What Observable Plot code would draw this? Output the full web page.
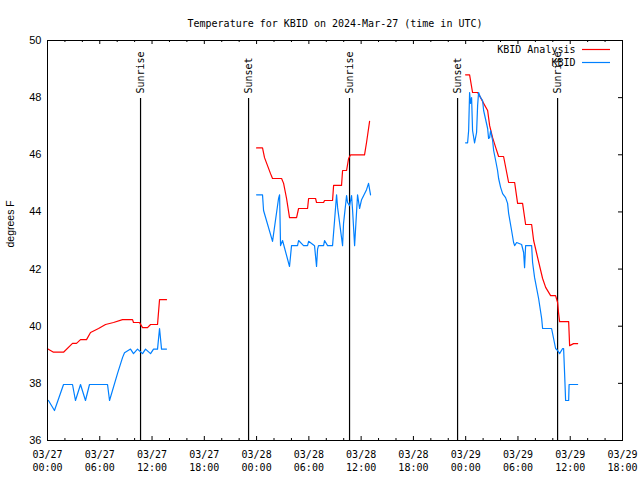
<!DOCTYPE html>
<html>
<head>
<meta charset="utf-8">
<script src="https://cdn.jsdelivr.net/npm/d3@7"></script>
<script src="https://cdn.jsdelivr.net/npm/@observablehq/plot@0.6"></script>
<style>
  html, body { margin: 0; padding: 0; background: #fff; }
  #chart svg { display: block; }
</style>
</head>
<body>
<div id="chart"></div>
<script>
// ---------- data (hours since 2024-03-27 00:00 UTC, degrees F) ----------
const analysisDay1Hours = [0.0,0.69,1.84,2.87,3.33,3.79,4.48,4.94,5.86,6.66,7.58,8.61,9.76,9.87,10.56,10.91,11.48,11.83,12.63,12.86,13.66];
const analysisDay1Temps = [39.21,39.09,39.09,39.40,39.40,39.53,39.53,39.78,39.92,40.06,40.13,40.23,40.23,40.13,40.13,39.95,39.95,40.06,40.06,40.93,40.93];
const analysisDay2Hours = [24.00,24.68,24.91,25.60,25.83,26.87,27.10,27.44,27.78,28.59,28.82,29.85,29.97,30.77,30.88,31.69,31.80,32.72,32.84,33.75,33.87,34.33,34.56,34.79,36.39,36.62,36.97];
const analysisDay2Temps = [46.24,46.24,45.90,45.34,45.17,45.17,45.00,44.47,43.80,43.80,44.12,44.12,44.47,44.47,44.33,44.33,44.40,44.40,44.93,44.93,45.45,45.45,45.87,46.00,46.00,46.43,47.17];
const analysisDay3Hours = [47.99,48.45,48.79,49.37,49.71,50.06,50.52,50.75,51.09,51.44,51.78,52.35,52.93,53.62,53.96,54.53,54.88,55.57,55.80,56.26,56.83,57.18,57.75,58.32,58.55,58.67,58.78,59.82,59.93,60.39,60.85];
const analysisDay3Temps = [48.80,48.80,48.18,48.18,48.00,47.80,47.55,47.02,46.60,46.26,45.94,45.94,45.03,45.03,44.30,44.30,43.56,43.56,43.00,42.40,41.67,41.36,41.07,41.07,40.83,40.44,40.16,40.16,39.32,39.39,39.39];

const obsDay1Hours = [0.11,0.80,1.84,2.87,3.21,3.79,4.36,4.82,6.89,7.12,8.04,8.61,8.84,9.53,9.87,10.33,10.91,11.25,11.83,12.17,12.63,12.86,13.09,13.66];
const obsDay1Temps = [37.40,37.05,37.96,37.96,37.40,37.96,37.40,37.96,37.96,37.40,38.35,38.90,39.07,39.20,39.04,39.20,39.04,39.20,39.04,39.20,39.20,39.92,39.20,39.20];
const obsDay2Hours = [24.00,24.68,24.80,25.83,26.52,26.64,26.75,26.98,27.78,28.01,28.70,28.82,29.39,29.85,29.97,30.65,30.88,31.00,31.11,31.69,31.80,32.15,32.72,32.95,33.18,33.30,33.87,33.98,34.33,34.44,34.67,34.90,35.02,35.25,35.59,35.82,36.05,36.62,36.85,37.08];
const obsDay2Temps = [44.60,44.60,44.05,42.97,44.47,44.60,42.82,43.00,42.09,42.82,42.82,43.00,42.82,42.82,42.97,42.82,42.09,42.70,42.82,42.82,43.00,42.82,42.82,43.70,44.60,44.15,42.82,43.60,44.57,44.33,44.22,44.57,44.05,42.82,44.60,44.12,44.43,44.78,45.00,44.60];
const obsDay3Hours = [47.99,48.22,48.34,48.45,48.56,48.68,48.79,49.02,49.25,49.37,49.48,49.71,49.94,50.06,50.52,50.63,50.75,50.86,51.09,51.21,51.44,51.66,51.78,52.01,52.24,52.58,52.81,52.93,53.27,53.50,53.62,53.85,54.42,54.65,54.76,54.88,55.57,55.68,55.91,56.37,56.72,56.83,57.86,58.09,58.32,58.55,58.78,59.13,59.24,59.36,59.47,59.82,59.87,60.85];
const obsDay3Temps = [46.42,46.42,46.85,48.18,47.80,48.00,46.85,46.42,46.78,47.72,48.18,48.00,47.90,47.55,46.92,46.57,46.60,46.85,46.50,46.15,45.80,45.45,45.17,44.86,44.64,44.50,44.30,43.95,43.35,42.93,42.82,42.93,42.86,42.58,42.05,42.82,42.82,42.23,41.70,40.97,40.27,39.92,39.92,39.57,39.22,39.15,39.04,39.22,39.22,38.30,37.40,37.40,37.96,37.96];

const sunHours  = [10.68, 23.08, 34.67, 47.07, 58.55];
const sunLabels = ["Sunrise", "Sunset", "Sunrise", "Sunset", "Sunrise"];

const yTicks = [36, 38, 40, 42, 44, 46, 48, 50];
const titleText = "Temperature for KBID on 2024-Mar-27 (time in UTC)";
const seriesNames = ["KBID Analysis", "KBID"];
const seriesColors = ["#ff0000", "#0080ff"];

// ---------- build tables ----------
const T0 = Date.UTC(2024, 2, 27, 0, 0);
const toDate = h => new Date(T0 + h * 3600e3);

function segs(hoursList, tempsList) {
  const rows = [];
  hoursList.forEach((hs, s) => hs.forEach((h, i) => rows.push({t: toDate(h), v: tempsList[s][i], seg: s})));
  return rows;
}
const analysis = segs([analysisDay1Hours, analysisDay2Hours, analysisDay3Hours], [analysisDay1Temps, analysisDay2Temps, analysisDay3Temps]);
const obs = segs([obsDay1Hours, obsDay2Hours, obsDay3Hours], [obsDay1Temps, obsDay2Temps, obsDay3Temps]);
const sun = sunHours.map((h, i) => ({t: toDate(h), label: sunLabels[i]}));

const xStart = toDate(0), xEnd = toDate(66);
const majorTicks = d3.range(0, 67, 6).map(toDate);
const minorTicks = d3.range(0, 67, 2).filter(h => h % 6 !== 0).map(toDate);
const fmt = d => d3.utcFormat("%m/%d")(d) + "\n" + d3.utcFormat("%H:%M")(d);

const W = 640, H = 480, ML = 47, MR = 18, MT = 40, MB = 40;
const FW = W - ML - MR, FH = H - MT - MB;
const mono = "DejaVu Sans Mono";

const legendSwatches = (index, scales, values, dims) => {
  const g = d3.create("svg:g");
  const right = dims.width - dims.marginRight;
  seriesColors.forEach((c, i) => {
    g.append("line")
      .attr("x1", right - 40).attr("x2", right - 12)
      .attr("y1", dims.marginTop + 9.5 + i * 13).attr("y2", dims.marginTop + 9.5 + i * 13)
      .attr("stroke", c).attr("stroke-width", 1.2);
  });
  return g.node();
};

const chart = Plot.plot({
  width: W, height: H,
  marginLeft: ML, marginRight: MR, marginTop: MT, marginBottom: MB,
  style: {fontFamily: mono, fontSize: "10px", background: "#fff", color: "#000"},
  x: {type: "utc", domain: [xStart, xEnd], axis: null},
  y: {domain: [36, 50], axis: null},
  marks: [
    // sunrise / sunset
    Plot.ruleX(sun, {x: "t", y1: 36, y2: 47.97, stroke: "#000", strokeWidth: 1.2}),
    Plot.text(sun, {x: "t", text: "label", frameAnchor: "top", dy: 53, rotate: -90, textAnchor: "start", lineAnchor: "middle", fontFamily: mono, fontSize: 10, fill: "#000"}),
    // data
    Plot.line(analysis, {x: "t", y: "v", z: "seg", stroke: seriesColors[0], strokeWidth: 1.2, curve: "linear"}),
    Plot.line(obs, {x: "t", y: "v", z: "seg", stroke: seriesColors[1], strokeWidth: 1.2, curve: "linear"}),
    // frame & ticks
    Plot.frame({stroke: "#000", strokeWidth: 1}),
    Plot.ruleX(majorTicks, {x: d => d, insetTop: FH - 4, stroke: "#000"}),
    Plot.ruleX(minorTicks, {x: d => d, insetTop: FH - 2, stroke: "#000"}),
    Plot.ruleX(majorTicks, {x: d => d, insetBottom: FH - 4, stroke: "#000"}),
    Plot.ruleX(minorTicks, {x: d => d, insetBottom: FH - 2, stroke: "#000"}),
    Plot.ruleY(yTicks, {y: d => d, insetLeft: FW - 4, stroke: "#000"}),
    // tick labels
    Plot.text(majorTicks, {x: d => d, text: fmt, frameAnchor: "bottom", dy: 20, lineAnchor: "middle", lineHeight: 1.3, fontFamily: mono, fontSize: 10, fill: "#000"}),
    Plot.text(yTicks, {y: d => d, text: d => String(d), frameAnchor: "left", dx: -6, textAnchor: "end", fontFamily: "Liberation Sans", fontSize: 11, fill: "#000"}),
    Plot.text(["degrees F"], {frameAnchor: "left", dx: -37, dy: 7, rotate: -90, fontFamily: "Liberation Sans", fontSize: 10.5, fill: "#000"}),
    // title
    Plot.text([titleText], {frameAnchor: "top", dy: -21, fontFamily: mono, fontSize: 10, fill: "#000"}),
    // legend
    Plot.text([seriesNames[0]], {frameAnchor: "top-right", dx: -47, dy: 9.5, textAnchor: "end", lineAnchor: "middle", fontFamily: mono, fontSize: 10, fill: "#000"}),
    Plot.text([seriesNames[1]], {frameAnchor: "top-right", dx: -47, dy: 22.5, textAnchor: "end", lineAnchor: "middle", fontFamily: mono, fontSize: 10, fill: "#000"}),
    legendSwatches
  ]
});
document.getElementById("chart").appendChild(chart);
</script>
</body>
</html>
